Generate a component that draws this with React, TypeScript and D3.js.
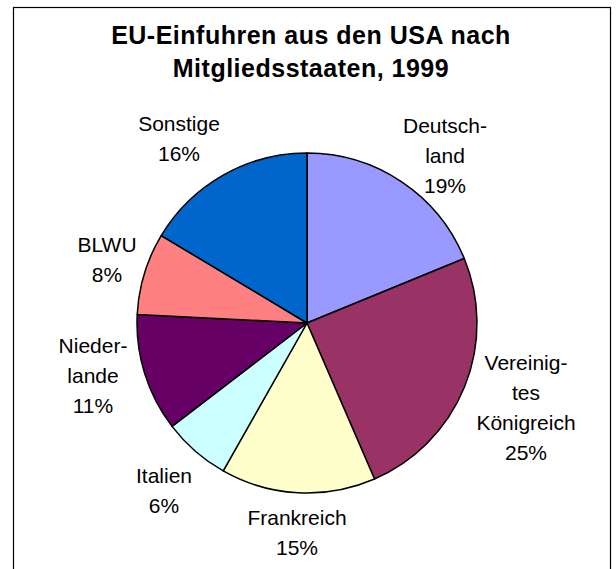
import React from "react";
import * as d3 from "d3";

const categories = [
  "Deutschland",
  "Vereinigtes Königreich",
  "Frankreich",
  "Italien",
  "Niederlande",
  "BLWU",
  "Sonstige",
];
const labelLines = [
  ["Deutsch-", "land"],
  ["Vereinig-", "tes", "Königreich"],
  ["Frankreich"],
  ["Italien"],
  ["Nieder-", "lande"],
  ["BLWU"],
  ["Sonstige"],
];
const values = [18.8, 24.7, 14.7, 6.4, 11.2, 7.8, 16.4];
const pctLabels = ["19%", "25%", "15%", "6%", "11%", "8%", "16%"];
const colors = ["#9999FF", "#993366", "#FFFFCC", "#CCFFFF", "#660066", "#FF8080", "#0066CC"];
const titleLines = ["EU-Einfuhren aus den USA nach", "Mitgliedsstaaten, 1999"];

// layout: label anchor (center x, first baseline y)
const labelAnchors: [number, number][] = [
  [445, 133],
  [526, 370],
  [297, 525],
  [164, 483],
  [93, 353],
  [107, 252],
  [179, 131],
];

const W = 616;
const H = 569;
const CX = 307;
const CY = 323;
const R = 170;
const LINE = 30;
const FONT = "'Liberation Sans', Arial, sans-serif";

export default function App() {
  const data = categories.map((c, i) => ({ c, v: values[i], i }));
  const pie = d3
    .pie<{ c: string; v: number; i: number }>()
    .sort(null)
    .value((d) => d.v)
    .startAngle(0)
    .endAngle(2 * Math.PI);
  const arcs = pie(data);
  const arc = d3
    .arc<d3.PieArcDatum<{ c: string; v: number; i: number }>>()
    .innerRadius(0)
    .outerRadius(R);

  return (
    <svg
      width={W}
      height={H}
      style={{ position: "absolute", left: 0, top: 0, background: "#fff" }}
      fontFamily={FONT}
    >
      <rect x={0} y={0} width={W} height={H} fill="#fff" />
      <rect x={13.5} y={7.5} width={597} height={620} fill="none" stroke="#000" strokeWidth={1.2} />
      <g fontWeight="bold" fontSize={25} textAnchor="middle" letterSpacing={0.5}>
        {titleLines.map((t, i) => (
          <text key={i} x={311} y={44 + i * 33}>
            {t}
          </text>
        ))}
      </g>
      <g transform={`translate(${CX},${CY})`}>
        {arcs.map((a, i) => (
          <path key={i} d={arc(a) || ""} fill={colors[i]} stroke="#000" strokeWidth={1.5} strokeLinejoin="round" />
        ))}
      </g>
      <g fontSize={21} textAnchor="middle" fill="#000">
        {categories.map((c, i) => {
          const [x, y] = labelAnchors[i];
          const lines = [...labelLines[i], pctLabels[i]];
          return (
            <text key={c} x={x} y={y}>
              {lines.map((l, j) => (
                <tspan key={j} x={x} y={y + j * LINE}>
                  {l}
                </tspan>
              ))}
            </text>
          );
        })}
      </g>
    </svg>
  );
}
